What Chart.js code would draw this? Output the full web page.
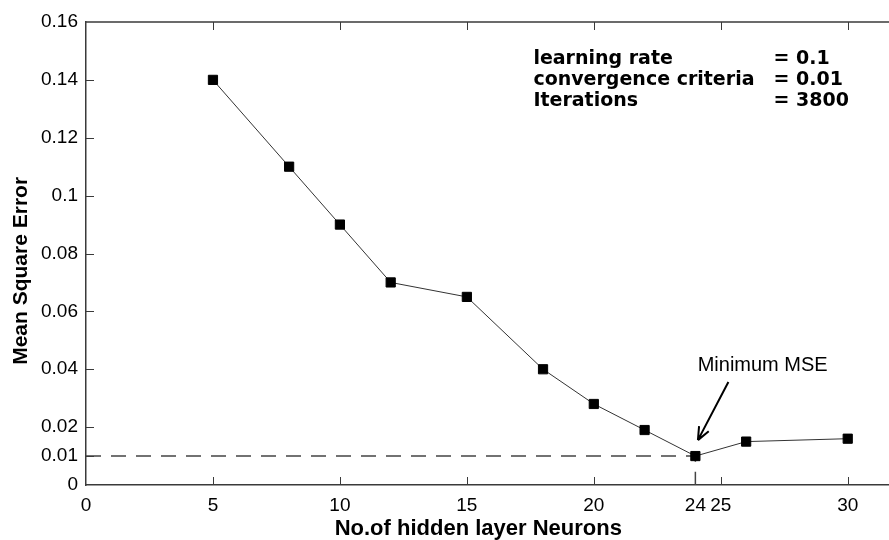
<!DOCTYPE html>
<html>
<head>
<meta charset="utf-8">
<script src="https://cdn.jsdelivr.net/npm/chart.js@4.4.1/dist/chart.umd.min.js"></script>
<style>
  html, body { margin: 0; padding: 0; background: #fff; overflow: hidden; }
  canvas { display: block; }
</style>
</head>
<body>
<canvas id="mseChart" width="906" height="540"></canvas>
<script>
// Données
const neurons = [5, 8, 10, 12, 15, 18, 20, 22, 24, 26, 30];
const mse = [0.14, 0.11, 0.09, 0.07, 0.065, 0.04, 0.028, 0.019, 0.01, 0.015, 0.016];
const xTickLabels = [0, 5, 10, 15, 20, 24, 25, 30];
const xTickMarks = [5, 10, 15, 20, 25, 30];
const yTickLabels = [0, 0.01, 0.02, 0.04, 0.06, 0.08, 0.1, 0.12, 0.14, 0.16];
const paramNames = ['learning rate', 'convergence criteria', 'Iterations'];
const paramValues = ['= 0.1', '= 0.01', '= 3800'];

// point du minimum
const minIdx = mse.indexOf(Math.min(...mse));
const minX = neurons[minIdx];
const minY = mse[minIdx];

const axisColor = '#3a3a3a';

// Ticks intérieurs, cadre du haut, titres et annotations
const decorPlugin = {
    id: 'decor',
    afterDraw(chart) {
        const { ctx, chartArea } = chart;
        const xs = chart.scales.x;
        const ys = chart.scales.y;
        const len = 8;
        ctx.save();
        ctx.strokeStyle = axisColor;
        ctx.lineWidth = 1.5;

        // cadre du haut
        ctx.beginPath();
        ctx.moveTo(chartArea.left, chartArea.top);
        ctx.lineTo(chartArea.right, chartArea.top);
        ctx.stroke();

        ctx.lineWidth = 1;
        ctx.beginPath();
        xTickMarks.forEach(v => {
            const px = Math.round(xs.getPixelForValue(v)) + 0.5;
            ctx.moveTo(px, chartArea.bottom);
            ctx.lineTo(px, chartArea.bottom - len);
            ctx.moveTo(px, chartArea.top);
            ctx.lineTo(px, chartArea.top + len);
        });
        yTickLabels.forEach(v => {
            if (v === 0 || v === 0.16) return;
            const py = Math.round(ys.getPixelForValue(v)) + 0.5;
            ctx.moveTo(chartArea.left, py);
            ctx.lineTo(chartArea.left + len, py);
        });
        ctx.stroke();

        // titres des axes
        ctx.fillStyle = '#000';
        ctx.font = 'bold 22px "Liberation Sans", Arial, sans-serif';
        ctx.textAlign = 'center';
        ctx.textBaseline = 'alphabetic';
        ctx.fillText('No.of hidden layer Neurons', xs.getPixelForValue(15.45), 535);

        ctx.save();
        ctx.translate(27, ys.getPixelForValue(0.074));
        ctx.rotate(-Math.PI / 2);
        ctx.font = 'bold 21px "Liberation Sans", Arial, sans-serif';
        ctx.fillText('Mean Square Error', 0, 0);
        ctx.restore();

        // paramètres
        ctx.font = 'bold 19px "DejaVu Sans", Verdana, sans-serif';
        ctx.textAlign = 'left';
        const tx = xs.getPixelForValue(17.62);
        const ex = xs.getPixelForValue(27.08);
        const ty = ys.getPixelForValue(0.1455);
        paramNames.forEach((name, i) => {
            ctx.fillText(name, tx, ty + i * 21);
            ctx.fillText(paramValues[i], ex, ty + i * 21);
        });

        // annotation du minimum
        ctx.font = '20px "Liberation Sans", Arial, sans-serif';
        ctx.textAlign = 'center';
        ctx.fillText('Minimum MSE', xs.getPixelForValue(26.65), ys.getPixelForValue(0.0394));

        const x1 = xs.getPixelForValue(25.3), y1 = ys.getPixelForValue(0.0356);
        const x2 = xs.getPixelForValue(minX + 0.1), y2 = ys.getPixelForValue(minY + 0.0055);
        ctx.strokeStyle = '#000';
        ctx.lineWidth = 2;
        ctx.beginPath();
        ctx.moveTo(x1, y1);
        ctx.lineTo(x2, y2);
        const ang = Math.atan2(y2 - y1, x2 - x1);
        const head = 14;
        ctx.moveTo(x2, y2);
        ctx.lineTo(x2 - head * Math.cos(ang - 0.4), y2 - head * Math.sin(ang - 0.4));
        ctx.moveTo(x2, y2);
        ctx.lineTo(x2 - head * Math.cos(ang + 0.4), y2 - head * Math.sin(ang + 0.4));
        ctx.stroke();
        ctx.restore();
    }
};

const ctx = document.getElementById('mseChart').getContext('2d');
new Chart(ctx, {
    type: 'line',
    data: {
        datasets: [
            {
                data: neurons.map((n, i) => ({ x: n, y: mse[i] })),
                borderColor: '#333',
                borderWidth: 1,
                pointStyle: 'rect',
                pointRadius: 6.5,
                pointBackgroundColor: '#000',
                pointBorderColor: '#000',
                pointBorderWidth: 1,
                tension: 0
            },
            {
                // ligne pointillée du minimum
                data: [{ x: 0, y: minY }, { x: minX, y: minY }, { x: minX, y: 0 }],
                borderColor: '#444',
                borderWidth: 1.5,
                borderDash: [15, 10],
                pointRadius: 0,
                tension: 0
            }
        ]
    },
    options: {
        responsive: false,
        animation: false,
        layout: { padding: { top: 22, right: 2, left: 0, bottom: 0 } },
        plugins: {
            legend: { display: false },
            tooltip: { enabled: false }
        },
        scales: {
            x: {
                type: 'linear',
                min: 0,
                max: 32,
                grid: { display: false, drawTicks: false },
                border: { display: true, color: axisColor, width: 1.5 },
                afterBuildTicks: scale => { scale.ticks = xTickLabels.map(v => ({ value: v })); },
                afterFit: scale => { scale.height = 55; },
                ticks: {
                    padding: 9,
                    color: '#000',
                    font: { family: '"Liberation Sans", Arial, sans-serif', size: 19 },
                    maxRotation: 0,
                    callback: v => String(v)
                }
            },
            y: {
                min: 0,
                max: 0.16,
                grid: { display: false, drawTicks: false },
                border: { display: true, color: axisColor, width: 1.5 },
                afterBuildTicks: scale => { scale.ticks = yTickLabels.map(v => ({ value: v })); },
                afterFit: scale => { scale.width = 86; },
                ticks: {
                    padding: 8,
                    color: '#000',
                    font: { family: '"Liberation Sans", Arial, sans-serif', size: 19 },
                    callback: v => String(v)
                }
            }
        }
    },
    plugins: [decorPlugin]
});
</script>
</body>
</html>
